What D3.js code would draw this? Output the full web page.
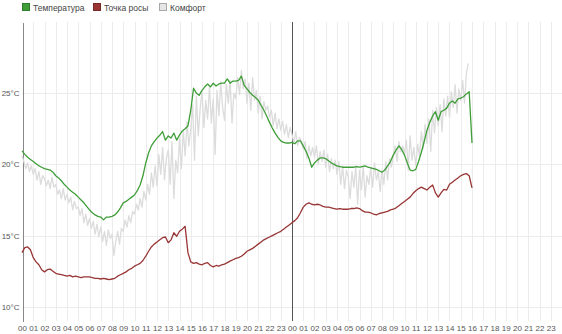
<!DOCTYPE html>
<html>
<head>
<meta charset="utf-8">
<script src="https://cdn.jsdelivr.net/npm/d3@7"></script>
<style>
  html, body { margin: 0; padding: 0; background: #fff; }
  svg { display: block; font-family: "Liberation Sans", Arial, sans-serif; }
</style>
</head>
<body>
<svg id="chart" width="562" height="334"></svg>
<script>
// Series names shown in the legend
const seriesNames = ["Температура", "Точка росы", "Комфорт"];

// Hour labels on the time axis (two days)
const hourLabels = [
  "00","01","02","03","04","05","06","07","08","09","10","11",
  "12","13","14","15","16","17","18","19","20","21","22","23",
  "00","01","02","03","04","05","06","07","08","09","10","11",
  "12","13","14","15","16","17","18","19","20","21","22","23"
];

// Temperature ticks on the value axis
const tempTicks = [10, 15, 20, 25];

// Temperature and dew point are logged every 15 minutes, comfort every 10 minutes
const sensorStepHours = 0.25;
const comfortStepHours = 1 / 6;

// Air temperature, °C
const temperature = [
  20.95, 20.7, 20.5, 20.35,  20.2, 20.05, 19.9, 19.8,  19.7, 19.65, 19.6, 19.45,
  19.2, 19.05, 18.85, 18.6,  18.4, 18.2, 18.05, 17.9,  17.7, 17.5, 17.3, 17.05,
  16.8, 16.6, 16.45, 16.35,  16.3, 16.1, 16.3, 16.3,  16.35, 16.45, 16.65, 16.95,
  17.3, 17.4, 17.55, 17.7,  17.85, 18.15, 18.55, 19.2,  20.1, 20.8, 21.3, 21.6,
  21.85, 22.05, 22.3, 21.7,  22.0, 21.85, 22.2, 21.7,  22.05, 22.35, 22.5, 22.7,
  23.8, 25.35, 25.0, 24.85,  25.2, 25.45, 25.65, 25.45,  25.7, 25.5, 25.65, 25.7,
  25.7, 26.0, 25.7, 25.85,  25.85, 25.9, 26.2, 25.55,  25.3, 25.05, 24.85, 24.7,
  24.5, 24.15, 23.8, 23.4,  22.95, 22.55, 22.2, 21.9,  21.65, 21.55, 21.5, 21.5,
  21.55, 21.45, 21.65, 21.65,  21.3, 20.9, 20.45, 19.8,  20.1, 20.3, 20.45, 20.45,
  20.4, 20.25, 20.1, 20.0,  19.9, 19.85, 19.8, 19.8,  19.8, 19.8, 19.8, 19.85,
  19.8, 19.85, 19.9, 19.8,  19.75, 19.7, 19.65, 19.55,  19.45, 19.6, 19.9, 20.2,
  20.65, 21.0, 21.3, 21.05,  20.65, 20.1, 19.6, 19.55,  19.65, 20.2, 20.85, 21.6,
  22.4, 22.95, 23.4, 23.7,  23.1, 23.7, 23.8, 23.95,  24.3, 24.45, 24.3, 24.6,
  24.65, 24.75, 24.95, 25.1,  21.5
];

// Dew point, °C
const dewPoint = [
  13.8, 14.15, 14.2, 14.0,  13.45, 13.15, 12.95, 12.6,  12.45, 12.6, 12.65, 12.5,
  12.35, 12.3, 12.25, 12.2,  12.15, 12.2, 12.1, 12.15,  12.1, 12.05, 12.1, 12.1,
  12.1, 12.05, 12.0, 12.0,  11.95, 12.0, 11.95, 11.9,  11.95, 12.0, 12.15, 12.25,
  12.35, 12.45, 12.6, 12.7,  12.85, 12.95, 13.05, 13.25,  13.55, 13.9, 14.2, 14.4,
  14.55, 14.7, 14.85, 14.9,  14.5, 14.7, 15.2, 14.95,  15.3, 15.45, 15.65, 13.8,
  13.15, 13.05, 13.1, 13.0,  12.95, 13.05, 13.1, 12.9,  12.8, 12.9, 12.85, 12.95,
  13.0, 13.1, 13.2, 13.3,  13.4, 13.45, 13.55, 13.7,  13.9, 14.0, 14.1, 14.25,
  14.4, 14.55, 14.7, 14.8,  14.9, 15.0, 15.1, 15.2,  15.3, 15.45, 15.6, 15.75,
  15.9, 16.05, 16.25, 16.6,  17.0, 17.2, 17.3, 17.2,  17.15, 17.2, 17.15, 17.05,
  17.0, 17.0, 16.95, 16.9,  16.85, 16.9, 16.85, 16.85,  16.85, 16.9, 16.9, 16.95,
  16.9, 16.75, 16.65, 16.65,  16.6, 16.5, 16.45, 16.55,  16.6, 16.65, 16.7, 16.8,
  16.85, 16.95, 17.1, 17.25,  17.4, 17.55, 17.7, 17.95,  18.15, 18.3, 18.4, 18.3,
  18.2, 18.4, 18.55, 18.0,  17.7, 18.0, 18.25, 18.2,  18.6, 18.75, 18.9, 19.05,
  19.2, 19.3, 19.35, 19.2,  18.35
];

// Comfort (feels-like) temperature, °C
const comfort = [
  20.6, 20.2, 19.7, 20.1, 19.5, 19.9,   19.3, 19.7, 18.9, 19.5, 18.6, 19.2,
  19.0, 18.5, 18.9, 18.3, 19.1, 18.4,   18.6, 17.9, 18.2, 17.6, 18.3, 17.5,
  17.9, 17.3, 17.7, 16.8, 17.4, 16.9,   17.0, 16.4, 16.9, 15.9, 16.5, 15.7,
  16.2, 15.5, 16.0, 15.1, 15.8, 14.9,   15.6, 14.6, 15.3, 14.3, 15.4, 14.8,
  15.1, 13.6, 14.6, 15.3, 14.4, 15.5,   15.3, 16.1, 15.6, 16.4, 15.9, 16.7,
  16.5, 17.2, 16.8, 17.6, 17.0, 18.1,   17.5, 18.6, 17.9, 19.4, 18.4, 19.9,
  18.5, 20.7, 19.3, 21.2, 18.9, 20.4,   21.0, 18.6, 21.6, 17.6, 20.3, 19.4,
  21.8, 19.7, 22.4, 20.6, 23.0, 21.3,   22.5, 24.2, 20.3, 24.8, 22.0, 23.9,
  25.1, 22.6, 24.5, 23.2, 25.5, 22.9,   24.6, 20.7, 25.2, 23.4, 25.8, 24.0,
  23.1, 25.6, 24.3, 25.9, 22.9, 25.0,   24.6, 26.1, 24.9, 26.6, 25.3, 26.0,
  24.3, 25.7, 23.8, 26.1, 24.5, 25.2,   23.6, 24.8, 23.2, 24.4, 23.8, 24.1,
  23.3, 23.8, 22.7, 23.6, 22.5, 23.2,   22.4, 23.0, 22.1, 22.8, 21.9, 22.6,
  22.1, 21.5, 22.3, 21.3, 21.9, 21.6,   21.1, 21.6, 20.4, 21.3, 20.6, 21.2,
  20.5, 21.3, 20.0, 20.9, 20.2, 21.0,   19.8, 20.7, 19.5, 20.4, 19.7, 20.3,
  19.3, 20.2, 18.6, 19.9, 18.3, 19.6,   19.1, 17.6, 19.5, 18.4, 19.9, 17.2,
  19.6, 18.2, 19.9, 17.7, 19.2, 18.6,   19.7, 18.4, 20.1, 18.9, 19.5, 18.1,
  19.6, 18.6, 20.2, 18.9, 20.4, 19.8,   20.6, 21.3, 20.2, 21.6, 20.9, 21.3,
  20.8, 21.7, 19.6, 22.0, 20.3, 21.2,   19.9, 21.4, 20.6, 22.3, 21.1, 22.8,
  21.5, 23.2, 20.9, 23.8, 22.2, 24.0,   22.7, 24.2, 22.3, 24.6, 23.4, 24.8,
  23.3, 25.1, 24.0, 25.6, 23.6, 25.3,   24.5, 25.9, 24.3, 26.4, 27.1
];

const colors = { temp: "#3f9e38", dew: "#983535", comfort: "#dcdcdc" };

const svg = d3.select("#chart");
const width = 562, height = 334;
const margin = { top: 22, right: 0, bottom: 13, left: 22 };

const x = d3.scaleLinear()
  .domain([0, hourLabels.length])
  .range([margin.left, width - margin.right]);

const y = d3.scaleLinear()
  .domain([9, 30])
  .range([height - margin.bottom, margin.top]);

const hours = d3.range(hourLabels.length);

// Grid
const grid = svg.append("g").attr("shape-rendering", "crispEdges");
grid.selectAll("line.v").data(hours.slice(1)).join("line")
  .attr("class", "v")
  .attr("x1", d => Math.round(x(d)) + 0.5).attr("x2", d => Math.round(x(d)) + 0.5)
  .attr("y1", y.range()[1]).attr("y2", y.range()[0])
  .attr("stroke", "#ececec");
grid.selectAll("line.h").data(tempTicks).join("line")
  .attr("class", "h")
  .attr("x1", x.range()[0]).attr("x2", x.range()[1])
  .attr("y1", d => Math.round(y(d)) + 0.5).attr("y2", d => Math.round(y(d)) + 0.5)
  .attr("stroke", "#ececec");

// Midnight separator
grid.append("line")
  .attr("x1", Math.round(x(24)) + 0.5).attr("x2", Math.round(x(24)) + 0.5)
  .attr("y1", y.range()[1]).attr("y2", y.range()[0])
  .attr("stroke", "#555");

// Value axis
const yAxis = d3.axisLeft(y).tickValues(tempTicks).tickSize(0).tickPadding(3)
  .tickFormat(d => d + "°C");
const gy = svg.append("g")
  .attr("transform", `translate(${margin.left + 0.5},0)`)
  .call(yAxis);
gy.select(".domain").attr("stroke", "#888").attr("shape-rendering", "crispEdges");
gy.selectAll("text").attr("fill", "#555").style("font-size", "8px")
  .style("font-family", "'Liberation Sans', Arial, sans-serif");

// Time axis
const xAxis = d3.axisBottom(x).tickValues(hours).tickSize(0).tickPadding(4)
  .tickFormat(d => hourLabels[d]);
const gx = svg.append("g")
  .attr("transform", `translate(0,${height - margin.bottom})`)
  .call(xAxis);
gx.select(".domain").remove();
gx.selectAll("text").attr("fill", "#555").style("font-size", "8px")
  .style("font-family", "'Liberation Sans', Arial, sans-serif");

// Lines
const lineFor = step => d3.line()
  .x((d, i) => x(i * step))
  .y(d => y(d));

svg.append("path").datum(comfort)
  .attr("fill", "none").attr("stroke", colors.comfort)
  .attr("stroke-width", 1.3).attr("stroke-linejoin", "round")
  .attr("d", lineFor(comfortStepHours));
svg.append("path").datum(temperature)
  .attr("fill", "none").attr("stroke", colors.temp)
  .attr("stroke-width", 1.3).attr("stroke-linejoin", "round")
  .attr("d", lineFor(sensorStepHours));
svg.append("path").datum(dewPoint)
  .attr("fill", "none").attr("stroke", colors.dew)
  .attr("stroke-width", 1.3).attr("stroke-linejoin", "round")
  .attr("d", lineFor(sensorStepHours));

// Legend
const legendItems = [
  { name: seriesNames[0], fill: colors.temp, stroke: "#2f7f2a", x: 22 },
  { name: seriesNames[1], fill: colors.dew, stroke: "#7a2828", x: 93 },
  { name: seriesNames[2], fill: "#e6e6e6", stroke: "#a8a8a8", x: 159 }
];
const legend = svg.append("g");
const li = legend.selectAll("g").data(legendItems).join("g")
  .attr("transform", d => `translate(${d.x},3)`);
li.append("rect").attr("x", 0.5).attr("y", 0.5).attr("width", 7).attr("height", 7)
  .attr("fill", d => d.fill).attr("stroke", d => d.stroke);
li.append("text").attr("x", 11).attr("y", 7.5)
  .attr("fill", "#444").style("font-size", "8.5px")
  .text(d => d.name);
</script>
</body>
</html>
